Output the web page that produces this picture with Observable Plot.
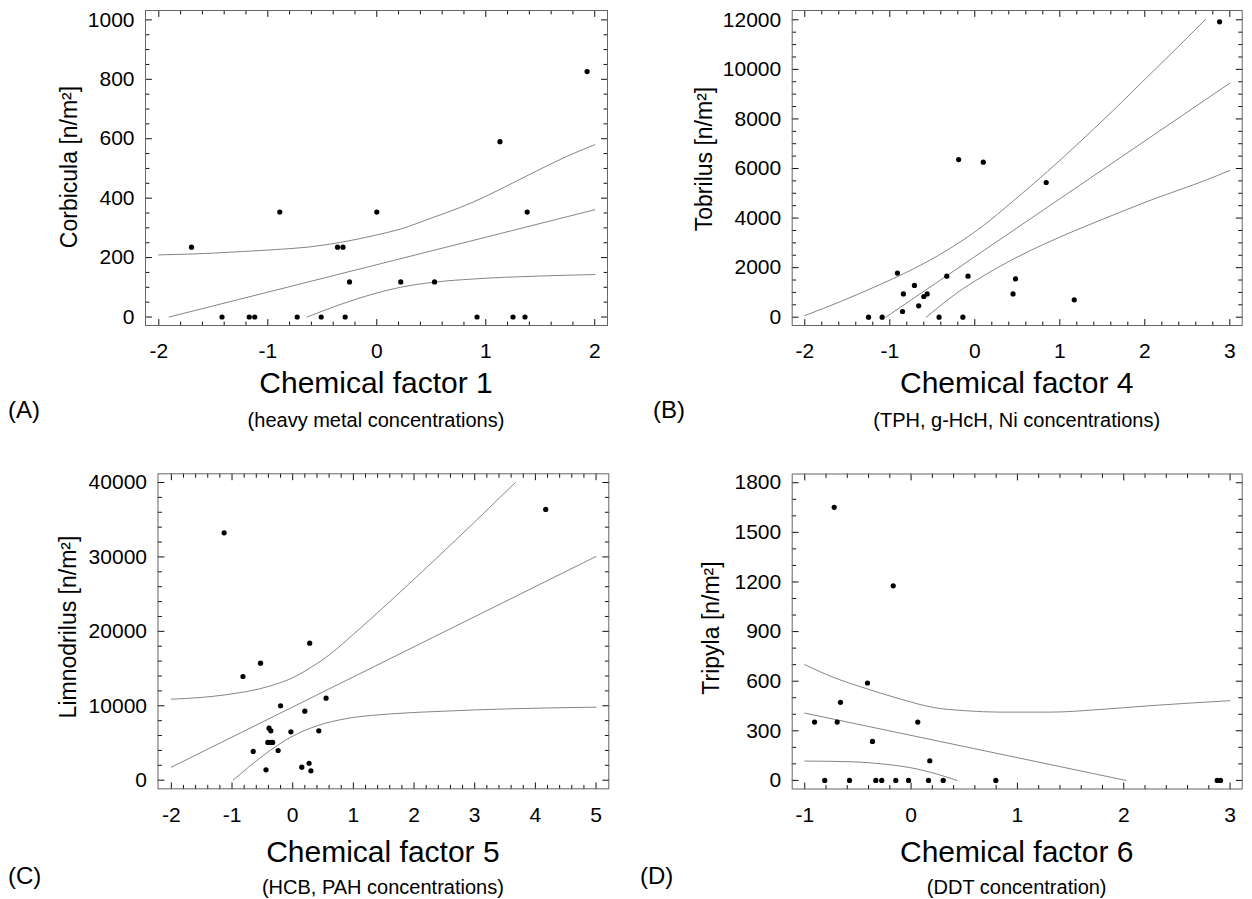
<!DOCTYPE html>
<html><head><meta charset="utf-8">
<script src="https://cdn.jsdelivr.net/npm/d3@7"></script>
<script src="https://cdn.jsdelivr.net/npm/@observablehq/plot@0.6"></script>
<style>
html,body{margin:0;padding:0;background:#fff;overflow:hidden;}
#chart{position:relative;width:1252px;height:899px;font-family:"Liberation Sans",Arial,sans-serif;color:#000;background:#fff;}
#chart svg{position:absolute;left:0;top:0;}
.lbl{position:absolute;white-space:nowrap;line-height:1;transform:translate(-50%,-50%);}
.ylbl{position:absolute;white-space:nowrap;line-height:1;transform:translate(-50%,-50%) rotate(-90deg);}
.pl{position:absolute;white-space:nowrap;line-height:1;transform:translate(0,-50%);}
</style></head><body><div id="chart"></div><script>
// ---------- Panel A : Corbicula vs Chemical factor 1 ----------
const aX = [-1.70, -1.42, -1.17, -1.12, -0.89, -0.73, -0.51, -0.36, -0.31, -0.29, -0.25, 0.00, 0.22, 0.53, 0.92, 1.13, 1.25, 1.36, 1.38, 1.93];
const aY = [235, 0, 0, 0, 353, 0, 0, 235, 235, 0, 118, 353, 118, 118, 0, 590, 0, 0, 353, 826];
const aFitX = [-1.905, 2.0];
const aFitY = [0, 361];
const aUpX = [-2.0, -1.556, -1.25, -0.883, -0.639, -0.333, -0.028, 0.217, 0.523, 0.768, 0.982, 1.257, 1.502, 1.747, 2.0];
const aUpY = [209, 214, 220, 228, 235, 251, 274, 296, 336, 369, 403, 453, 498, 541, 580];
const aLoX = [-0.639, -0.272, -0.028, 0.217, 0.523, 0.89, 1.196, 1.502, 2.0];
const aLoY = [0, 50, 78, 100, 117, 128, 134, 138, 143];
const aXTicks = [-2, -1, 0, 1, 2];
const aYTicks = [0, 200, 400, 600, 800, 1000];

// ---------- Panel B : Tobrilus vs Chemical factor 4 ----------
const bX = [-1.25, -1.09, -0.91, -0.85, -0.84, -0.71, -0.66, -0.60, -0.56, -0.42, -0.33, -0.19, -0.14, -0.08, 0.10, 0.45, 0.48, 0.84, 1.17, 2.88];
const bY = [0, 0, 1780, 230, 940, 1280, 460, 835, 940, 0, 1655, 6360, 0, 1655, 6255, 940, 1545, 5435, 700, 11920];
const bFitX = [-1.047, 3.0];
const bFitY = [0, 9443];
const bUpX = [-2.0, -1.58, -1.09, -0.855, -0.325, 0.07, 0.463, 0.855, 1.17, 1.64, 1.91, 2.3, 2.71];
const bUpY = [65, 630, 1355, 1725, 2705, 3615, 4720, 5880, 6860, 8380, 9290, 10600, 12000];
const bLoX = [-0.572, -0.13, 0.145, 0.46, 0.855, 1.17, 1.64, 2.03, 2.74, 3.0];
const bLoY = [0, 1170, 1755, 2357, 3010, 3480, 4140, 4670, 5560, 5920];
const bXTicks = [-2, -1, 0, 1, 2, 3];
const bYTicks = [0, 2000, 4000, 6000, 8000, 10000, 12000];

// ---------- Panel C : Limnodrilus vs Chemical factor 5 ----------
const cX = [-1.13, -0.82, -0.53, -0.44, -0.41, -0.39, -0.36, -0.36, -0.33, -0.24, -0.20, -0.65, -0.03, 0.15, 0.20, 0.27, 0.28, 0.30, 0.43, 0.55, 4.17];
const cY = [33240, 13930, 15720, 1400, 5070, 6990, 6630, 5070, 5070, 3990, 10000, 3860, 6500, 1750, 9270, 2280, 18410, 1260, 6630, 11020, 36380];
const cFitX = [-2.0, 5.0];
const cFitY = [1747, 30059];
const cUpX = [-2.0, -1.13, -0.363, 0.02, 0.29, 0.62, 1.0, 1.6, 2.21, 2.98, 3.67];
const cUpY = [10884, 11450, 12680, 13840, 15100, 16950, 19600, 24000, 28600, 34550, 40000];
const cLoX = [-0.98, -0.472, -0.033, 0.407, 0.9, 1.6, 2.43, 3.53, 5.0];
const cLoY = [0, 3400, 5775, 7330, 8300, 8900, 9250, 9580, 9810];
const cXTicks = [-2, -1, 0, 1, 2, 3, 4, 5];
const cYTicks = [0, 10000, 20000, 30000, 40000];

// ---------- Panel D : Tripyla vs Chemical factor 6 ----------
const dX = [-0.723, -0.168, -0.41, -0.664, -0.908, -0.695, 0.063, -0.363, 0.176, -0.812, -0.579, -0.332, -0.276, -0.144, -0.024, 0.164, 0.302, 0.797, 2.879, 2.91];
const dY = [1651, 1177, 589, 472, 353, 353, 353, 236, 118, 0, 0, 0, 0, 0, 0, 0, 0, 0, 0, 0];
const dFitX = [-1.0, 2.02];
const dFitY = [407, 0];
const dUpX = [-1.0, -0.73, -0.41, -0.1, 0.21, 0.52, 0.84, 1.31, 1.78, 2.25, 3.0];
const dUpY = [700, 623, 553, 492, 441, 421, 413, 413, 429, 452, 482];
const dLoX = [-1.0, -0.57, -0.26, 0.056, 0.24, 0.43];
const dLoY = [117, 113, 99, 69, 39, 0];
const dXTicks = [-1, 0, 1, 2, 3];
const dYTicks = [0, 300, 600, 900, 1200, 1500, 1800];

// ---------- Texts ----------
const yTitles = ["Corbicula [n/m²]", "Tobrilus [n/m²]", "Limnodrilus [n/m²]", "Tripyla [n/m²]"];
const xTitles = ["Chemical factor 1", "Chemical factor 4", "Chemical factor 5", "Chemical factor 6"];
const xSubtitles = ["(heavy metal concentrations)", "(TPH, g-HcH, Ni concentrations)", "(HCB, PAH concentrations)", "(DDT concentration)"];
const panelLetters = ["(A)", "(B)", "(C)", "(D)"];

const zip = (xs, ys) => xs.map((x, i) => ({x, y: ys[i]}));

const panels = [
  {pts: zip(aX, aY), fit: zip(aFitX, aFitY), up: zip(aUpX, aUpY), lo: zip(aLoX, aLoY), xt: aXTicks, yt: aYTicks, xMinor: 0.2, yMinor: 50,
   frame: {l: 145, r: 607, t: 10, b: 325}, xd: [-2.122, 2.117], yd: [-28.6, 1031.6],
   yt_pos: [69, 167], xt_pos: 383, sub_pos: 420, let_pos: [8, 410]},
  {pts: zip(bX, bY), fit: zip(bFitX, bFitY), up: zip(bUpX, bUpY), lo: zip(bLoX, bLoY), xt: bXTicks, yt: bYTicks, xMinor: 0.2, yMinor: 500,
   frame: {l: 791.7, r: 1241.7, t: 10, b: 325}, xd: [-2.148, 3.146], yd: [-335, 12375],
   yt_pos: [704, 159], xt_pos: 383, sub_pos: 420, let_pos: [653, 410]},
  {pts: zip(cX, cY), fit: zip(cFitX, cFitY), up: zip(cUpX, cUpY), lo: zip(cLoX, cLoY), xt: cXTicks, yt: cYTicks, xMinor: 0.2, yMinor: 2000,
   frame: {l: 157.5, r: 608.3, t: 473.3, b: 788.3}, xd: [-2.22, 5.21], yd: [-1156, 41169],
   yt_pos: [68, 627], xt_pos: 852, sub_pos: 887, let_pos: [8, 876]},
  {pts: zip(dX, dY), fit: zip(dFitX, dFitY), up: zip(dUpX, dUpY), lo: zip(dLoX, dLoY), xt: dXTicks, yt: dYTicks, xMinor: 0.2, yMinor: 100,
   frame: {l: 791.7, r: 1241.7, t: 473.5, b: 788.5}, xd: [-1.118, 3.114], yd: [-52, 1853],
   yt_pos: [711, 628], xt_pos: 852, sub_pos: 887, let_pos: [640, 876]}
];

const chart = document.getElementById("chart");
const W = 1252, H = 899;
const minorTicks = (ticks, step) => {
  const lo = ticks[0], hi = ticks[ticks.length - 1];
  const n = Math.round((hi - lo) / step);
  return d3.range(n + 1).map(i => lo + i * step).filter(v => !ticks.some(t => Math.abs(t - v) < step / 10));
};

panels.forEach((p, i) => {
  const fw = p.frame.r - p.frame.l, fh = p.frame.b - p.frame.t;
  const dxPx = (p.xd[1] - p.xd[0]) / fw, dyPx = (p.yd[1] - p.yd[0]) / fh;
  const xm = minorTicks(p.xt, p.xMinor), ym = minorTicks(p.yt, p.yMinor);
  const major = 6, minor = 3.5;
  const [x0, x1] = p.xd, [y0, y1] = p.yd;
  // inward tick segments on all four sides, placed through the x/y scales
  const seg = [];
  let k = 0;
  const addX = (vals, len) => vals.forEach(v => {
    seg.push({x: v, y: y0, k}, {x: v, y: y0 + len * dyPx, k}); k++;
    seg.push({x: v, y: y1, k}, {x: v, y: y1 - len * dyPx, k}); k++;
  });
  const addY = (vals, len) => vals.forEach(v => {
    seg.push({x: x0, y: v, k}, {x: x0 + len * dxPx, y: v, k}); k++;
    seg.push({x: x1, y: v, k}, {x: x1 - len * dxPx, y: v, k}); k++;
  });
  addX(p.xt, major); addX(xm, minor); addY(p.yt, major); addY(ym, minor);

  const svg = Plot.plot({
    width: W, height: H,
    marginLeft: p.frame.l, marginRight: W - p.frame.r, marginTop: p.frame.t, marginBottom: H - p.frame.b,
    x: {domain: p.xd, label: null},
    y: {domain: p.yd, label: null},
    style: {background: "transparent", fontFamily: '"Liberation Sans", Arial, sans-serif', color: "#000", overflow: "visible"},
    marks: [
      Plot.line(seg, {x: "x", y: "y", z: "k", stroke: "#111", strokeWidth: 1}),
      Plot.frame({stroke: "#666"}),
      Plot.axisX({ticks: p.xt, tickSize: 0, tickPadding: 18, fontSize: 21, tickFormat: d => String(d), label: null}),
      Plot.axisY({ticks: p.yt, tickSize: 0, tickPadding: 11, fontSize: 21, tickFormat: d => String(d), label: null}),
      Plot.line(p.up, {x: "x", y: "y", stroke: "#666", strokeWidth: 0.8, curve: "monotone-x"}),
      Plot.line(p.fit, {x: "x", y: "y", stroke: "#666", strokeWidth: 0.8}),
      Plot.line(p.lo, {x: "x", y: "y", stroke: "#666", strokeWidth: 0.8, curve: "monotone-x"}),
      Plot.dot(p.pts, {x: "x", y: "y", r: 2.6, fill: "#000", stroke: "none"})
    ]
  });
  chart.appendChild(svg);

  const cx = (p.frame.l + p.frame.r) / 2;
  const add = (cls, text, x, y, size) => {
    const d = document.createElement("div");
    d.className = cls; d.textContent = text;
    d.style.left = x + "px"; d.style.top = y + "px"; d.style.fontSize = size + "px";
    chart.appendChild(d);
  };
  add("ylbl", yTitles[i], p.yt_pos[0], p.yt_pos[1], 23);
  add("lbl", xTitles[i], cx, p.xt_pos, 30);
  add("lbl", xSubtitles[i], cx, p.sub_pos, 20);
  add("pl", panelLetters[i], p.let_pos[0], p.let_pos[1], 24);
});
</script></body></html>
